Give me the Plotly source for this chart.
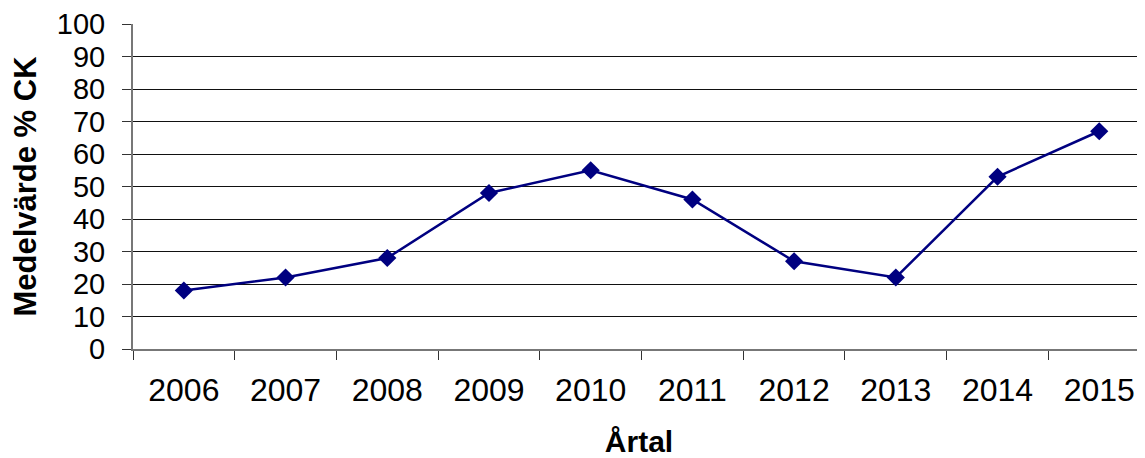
import plotly.graph_objects as go

years = ["2006", "2007", "2008", "2009", "2010", "2011", "2012", "2013", "2014", "2015"]
values = [18, 22, 28, 48, 55, 46, 27, 22, 53, 67]
y_ticks = list(range(0, 101, 10))

navy = "#000080"
font_family = "Liberation Sans, Arial, sans-serif"

fig = go.Figure()
fig.add_trace(go.Scatter(
    x=years, y=values, mode="lines+markers",
    line=dict(color=navy, width=2.5),
    marker=dict(symbol="diamond", size=14, color=navy),
    showlegend=False, cliponaxis=False,
))

fig.update_layout(
    width=1137, height=450,
    margin=dict(l=125, r=0, t=16, b=109),
    paper_bgcolor="white", plot_bgcolor="white",
    font=dict(family=font_family, color="black", size=29),
    xaxis=dict(
        type="category", range=[-0.5, 9.45], automargin=False,
        tickson="boundaries", ticks="outside", ticklen=9, tickcolor="#333",
        showline=True, linecolor="#777", linewidth=2,
        showgrid=False, zeroline=False,
        tickfont=dict(size=32), ticklabelstandoff=12,
        title=dict(text="<b>Årtal</b>", font=dict(size=30), standoff=30),
    ),
    yaxis=dict(
        range=[0, 100], tickvals=y_ticks, ticktext=[str(v) for v in y_ticks],
        automargin=False,
        ticks="outside", ticklen=9, tickcolor="#333",
        showline=True, linecolor="#777", linewidth=2,
        showgrid=True, gridcolor="#111", gridwidth=1, zeroline=False,
        tickfont=dict(size=29), ticklabelstandoff=11,
        title=dict(text="<b>Medelvärde % CK</b>", font=dict(size=31), standoff=12),
    ),
)

fig.write_html("out.html")
